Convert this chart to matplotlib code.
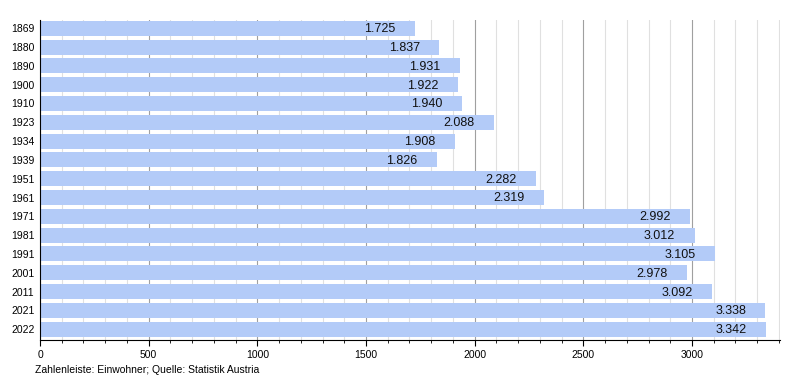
import numpy as np
import matplotlib.pyplot as plt
from matplotlib.ticker import MultipleLocator

# Daten
jahre = ["1869", "1880", "1890", "1900", "1910", "1923", "1934", "1939", "1951",
         "1961", "1971", "1981", "1991", "2001", "2011", "2021", "2022"]
einwohner = [1725, 1837, 1931, 1922, 1940, 2088, 1908, 1826, 2282,
             2319, 2992, 3012, 3105, 2978, 3092, 3338, 3342]

plt.rcParams['font.family'] = ['Liberation Sans', 'DejaVu Sans']

fig = plt.figure(figsize=(8, 3.8), dpi=100)
ax = fig.add_axes([0.05, 0.105, 0.925, 0.842])

pos = np.arange(len(jahre))
ax.barh(pos, einwohner, height=0.8, color="#b3cbf8", zorder=2)

# Werte innerhalb der Balken, rechtsbündig mit etwas Abstand
for p, v in zip(pos, einwohner):
    s = f"{v:,}".replace(",", ".")
    ax.annotate(s, (v, p + 0.05), xytext=(-14, 0), textcoords="offset points",
                ha="right", va="center", fontsize=9, color="#111111", zorder=3)

ax.set_xlim(0, 3405)
ax.set_ylim(len(jahre) - 0.42, -0.43)
ax.set_yticks(pos)
ax.set_yticklabels(jahre, fontsize=7.5)
ax.tick_params(axis="y", length=0, pad=4)

ax.xaxis.set_major_locator(MultipleLocator(500))
ax.xaxis.set_minor_locator(MultipleLocator(100))
ax.tick_params(axis="x", which="major", direction="out", length=4, labelsize=7.5, pad=3)
ax.tick_params(axis="x", which="minor", direction="out", length=2.5)

ax.grid(axis="x", which="major", color="#a0a0a0", linewidth=0.8, zorder=1)
ax.grid(axis="x", which="minor", color="#e0e0e0", linewidth=0.8, zorder=0)

for s in ["top", "right"]:
    ax.spines[s].set_visible(False)
ax.spines["left"].set_color("black")
ax.spines["bottom"].set_color("black")

fig.text(0.044, 0.018, "Zahlenleiste: Einwohner; Quelle: Statistik Austria", fontsize=7.5)

fig.savefig("out.png", dpi=100)
